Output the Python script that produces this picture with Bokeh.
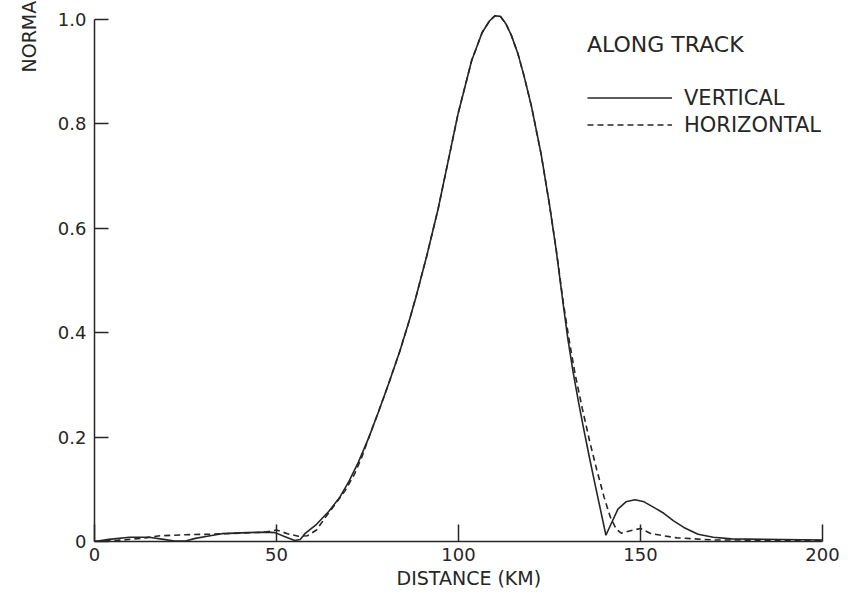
from bokeh.plotting import figure
from bokeh.models import Legend, LegendItem, Title, FixedTicker, CustomJSTickFormatter, Range1d
from bokeh.embed import file_html
from bokeh.resources import INLINE

# ---- data ----
dist_vertical = [0, 4, 9.6, 15, 19, 22, 25, 27.7, 31, 35, 42, 47, 49.6, 52, 55, 56.5, 57.8, 61,
                 64.4, 67.4, 69.9, 72.5, 75.3, 78, 80.8, 83.9, 86.5, 88.3, 91.2, 94.4, 97.2, 99.9,
                 103.6, 106.5, 108.5, 110, 111.5, 113, 114.5, 116.3, 118, 120, 122.7, 125, 126.8,
                 128.7, 130, 131.5, 133, 134.5, 136, 137.5, 139, 140.5, 142, 143.8, 146, 148.5,
                 151, 154, 156.4, 159, 161.9, 165.8, 170, 175, 200]
norm_vertical = [0, 0.004, 0.008, 0.008, 0.004, 0.001, 0.001, 0.006, 0.01, 0.015, 0.017, 0.018,
                 0.017, 0.01, 0.002, 0.004, 0.015, 0.033, 0.058, 0.085, 0.115, 0.152, 0.198, 0.248,
                 0.302, 0.365, 0.424, 0.468, 0.545, 0.637, 0.73, 0.82, 0.921, 0.975, 0.997, 1.007,
                 1.006, 0.992, 0.97, 0.935, 0.892, 0.835, 0.742, 0.645, 0.56, 0.458, 0.39, 0.324,
                 0.266, 0.212, 0.16, 0.11, 0.061, 0.012, 0.035, 0.062, 0.076, 0.08, 0.076, 0.064,
                 0.054, 0.04, 0.027, 0.014, 0.008, 0.005, 0.003]

dist_horizontal = [0, 8, 14, 18, 25, 32, 40, 47, 50, 53, 56, 58.5, 61, 63.3, 66, 68.8, 71.5, 73.5,
                   75.3, 78, 80.8, 83.9, 86.5, 88.3, 91.2, 94.4, 97.2, 99.9, 103.6, 106.5, 108.5,
                   110, 111.5, 113, 114.5, 116.3, 118, 120, 122.7, 125, 126.8, 128.7, 130.3, 132,
                   134, 136, 138, 140, 141.7, 143.3, 144.7, 146.9, 150, 152.9, 156.4, 160, 165,
                   170, 200]
norm_horizontal = [0, 0.003, 0.007, 0.011, 0.013, 0.014, 0.016, 0.018, 0.022, 0.015, 0.01, 0.011,
                   0.022, 0.045, 0.07, 0.097, 0.13, 0.163, 0.198, 0.248, 0.302, 0.365, 0.424,
                   0.468, 0.545, 0.637, 0.73, 0.82, 0.921, 0.975, 0.997, 1.007, 1.006, 0.992, 0.97,
                   0.935, 0.892, 0.835, 0.742, 0.645, 0.562, 0.462, 0.39, 0.322, 0.255, 0.193,
                   0.137, 0.085, 0.047, 0.024, 0.016, 0.02, 0.025, 0.015, 0.011, 0.007, 0.005,
                   0.003, 0.002]

x_ticks = [0, 50, 100, 150, 200]
y_ticks = [0, 0.2, 0.4, 0.6, 0.8, 1.0]

legend_title = "ALONG TRACK"
series_names = ["VERTICAL", "HORIZONTAL"]
x_label = "DISTANCE (KM)"
y_label = "NORMA"

INK = "#262626"
FONT = "DejaVu Sans"

p = figure(width=849, height=596, x_range=Range1d(0, 200), y_range=Range1d(0, 1.0172),
           output_backend="svg", toolbar_location=None,
           min_border_left=92, min_border_right=27, min_border_top=10, min_border_bottom=55)
p.outline_line_color = None
p.xgrid.visible = False
p.ygrid.visible = False
p.background_fill_color = "white"
p.border_fill_color = "white"

r_v = p.line(dist_vertical, norm_vertical, line_color=INK, line_width=1.6)
r_h = p.line(dist_horizontal, norm_horizontal, line_color=INK, line_width=1.6, line_dash="6 4")

for ax in (p.xaxis[0], p.yaxis[0]):
    ax.axis_line_color = INK
    ax.axis_line_width = 1.5
    ax.major_tick_line_color = INK
    ax.major_tick_line_width = 1.5
    ax.major_tick_out = 0
    ax.minor_tick_line_color = None
    ax.major_label_text_font = FONT
    ax.major_label_text_font_size = "18px"
    ax.major_label_text_color = INK

p.xaxis.ticker = FixedTicker(ticks=x_ticks)
p.xaxis.major_tick_in = 17
p.xaxis.major_label_standoff = 6
p.xaxis.bounds = (0, 200)

p.yaxis.ticker = FixedTicker(ticks=y_ticks)
p.yaxis.formatter = CustomJSTickFormatter(code="return tick == 0 ? '0' : tick.toFixed(1);")
p.yaxis.major_tick_in = 14
p.yaxis.major_label_standoff = 8
p.yaxis.bounds = (0, 1.0)

legend = Legend(items=[LegendItem(label=series_names[0], renderers=[r_v]),
                       LegendItem(label=series_names[1], renderers=[r_h])],
                title=legend_title, location=(493, 403),
                glyph_width=85, glyph_height=27, label_height=27, label_standoff=12,
                spacing=0, padding=0, margin=0,
                border_line_color=None, background_fill_alpha=0,
                title_text_font=FONT, title_text_font_size="22px", title_text_font_style="normal",
                title_text_color=INK, title_standoff=27,
                label_text_font=FONT, label_text_font_size="21px", label_text_color=INK)
p.add_layout(legend)

p.add_layout(Title(text=x_label, align="left", offset=302, standoff=3,
                   text_font=FONT, text_font_size="19px", text_font_style="normal",
                   text_color=INK), "below")
p.add_layout(Title(text=y_label, align="left", offset=469, standoff=30,
                   text_font=FONT, text_font_size="19px", text_font_style="normal",
                   text_color=INK), "left")

open("out.html", "w").write(file_html(p, INLINE))
